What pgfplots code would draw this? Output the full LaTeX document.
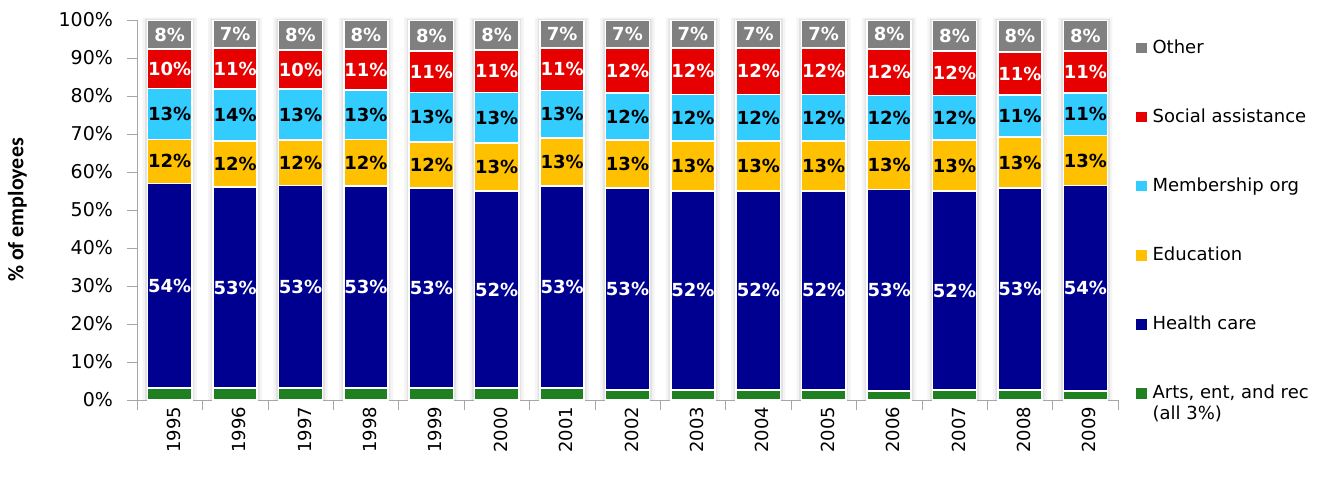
\documentclass[border=0pt]{standalone}
\usepackage{pgfplots}
\pgfplotsset{compat=1.18}
\usepackage{pgfplotstable}
\usepackage{fontspec}
\setmainfont{DejaVu Sans}
\newfontfamily\calibri{Carlito}

\definecolor{cOther}{HTML}{808080}
\definecolor{cSocial}{HTML}{E60000}
\definecolor{cMember}{HTML}{33CCFF}
\definecolor{cEdu}{HTML}{FFC000}
\definecolor{cHealth}{HTML}{000090}
\definecolor{cArts}{HTML}{1E8020}

% shares of employees (%)
\pgfplotstableread{
x year arts health edu  member social other
0 1995 3.1  53.9   11.6 13.4   10.3   7.7
1 1996 3.1  53.0   12.1 13.7   10.7   7.4
2 1997 3.1  53.4   11.9 13.4   10.3   7.9
3 1998 3.1  53.2   12.3 13.0   10.7   7.7
4 1999 3.1  52.7   12.1 13.0   10.9   8.2
5 2000 3.1  51.9   12.7 13.2   11.2   7.9
6 2001 3.1  53.2   12.6 12.6   11.2   7.3
7 2002 2.6  53.2   12.6 12.4   11.8   7.4
8 2003 2.7  52.3   13.2 12.2   12.2   7.4
9 2004 2.7  52.3   13.1 12.3   12.2   7.4
10 2005 2.7 52.3   13.2 12.2   12.2   7.4
11 2006 2.4 53.0   12.9 11.8   12.3   7.6
12 2007 2.6 52.4   13.4 11.7   11.7   8.2
13 2008 2.7 53.1   13.4 11.0   11.4   8.4
14 2009 2.4 54.0   13.2 11.2   11.0   8.2
}\shares

\pgfkeys{/pgf/number format/assume math mode=true}

\begin{document}
\begin{tikzpicture}[font=\fontsize{9}{11}\selectfont]
\path[use as bounding box] (-68.5pt,-41.75pt) rectangle (600.5pt,200pt);
\pgfplotsset{
  frame/.style={width=490.5pt, height=190pt, scale only axis,
    xmin=-0.5, xmax=14.5, ymin=0, ymax=100},
}
% soft shadow behind each bar
\begin{axis}[frame, hide axis, ybar, bar shift=0pt, clip=false]
  \addplot[draw=none, fill=gray!9, bar width=0.83] table[x=x,
    y expr=\thisrow{arts}+\thisrow{health}+\thisrow{edu}+\thisrow{member}+\thisrow{social}+\thisrow{other}+0.6] {\shares};
  \addplot[draw=none, fill=gray!22, bar width=0.75] table[x=x,
    y expr=\thisrow{arts}+\thisrow{health}+\thisrow{edu}+\thisrow{member}+\thisrow{social}+\thisrow{other}+0.3] {\shares};
\end{axis}

\begin{axis}[frame,
    ybar stacked, bar width=0.673,
    axis lines*=left,
    axis line style={gray!70, -},
    tick align=outside,
    tick style={gray!70},
    major tick length=5pt,
    ytick={0,10,...,100},
    yticklabel={\pgfmathprintnumber{\tick}\%},
    yticklabel style={font=\fontsize{9.5}{11}\selectfont, xshift=-3.5pt},
    xtick={-0.5,0.5,...,14.5},
    xticklabels={},
    extra x ticks={0,1,...,14},
    extra x tick labels={1995,1996,1997,1998,1999,2000,2001,2002,2003,2004,2005,2006,2007,2008,2009},
    extra x tick style={major tick length=0pt,
      tick label style={rotate=90, anchor=east, yshift=-2pt}},
    ylabel={\calibri\bfseries\fontsize{11}{13}\selectfont \% of employees},
    ylabel style={at={(axis description cs:-0.122,0.5)}, anchor=center},
    every axis plot/.append style={draw=white, line width=0.8pt},
    legend image code/.code={\fill[#1, draw=none] (0pt,-2.6pt) rectangle (5.2pt,2.6pt);},
    reverse legend,
    legend style={draw=none, fill=none, at={(axis description cs:1.012,0.97)},
      anchor=north west, row sep=22.2pt, cells={anchor=west},
      font=\fontsize{9}{11}\selectfont,
      /tikz/every odd column/.append style={column sep=1pt}},
  ]
  \addplot[fill=cArts]   table[x=x, y=arts]   {\shares};
  \addlegendentry{\makebox[0pt][l]{\raisebox{-10.5pt}[0pt][0pt]{(all 3\%)}}Arts, ent, and rec}
  \addplot[fill=cHealth] table[x=x, y=health] {\shares};
  \addlegendentry{Health care}
  \addplot[fill=cEdu]    table[x=x, y=edu]    {\shares};
  \addlegendentry{Education}
  \addplot[fill=cMember] table[x=x, y=member] {\shares};
  \addlegendentry{Membership org}
  \addplot[fill=cSocial] table[x=x, y=social] {\shares};
  \addlegendentry{Social assistance}
  \addplot[fill=cOther]  table[x=x, y=other]  {\shares};
  \addlegendentry{Other}
\end{axis}

% segment labels, centred in each segment
\begin{axis}[frame, hide axis,
    point meta=explicit,
    nodes near coords={\pgfmathprintnumber[fixed,precision=0]{\pgfplotspointmeta}\%},
    every node near coord/.append style={anchor=center, inner sep=0pt,
      font=\bfseries\fontsize{9}{11}\selectfont},
    every axis plot/.append style={only marks, mark=*, mark size=0pt,
      mark options={draw=none, fill=none}},
  ]
  \addplot[nodes near coords style={white}] table[x=x,
    y expr=\thisrow{arts}+\thisrow{health}/2, meta=health] {\shares};
  \addplot[nodes near coords style={black}] table[x=x,
    y expr=\thisrow{arts}+\thisrow{health}+\thisrow{edu}/2, meta=edu] {\shares};
  \addplot[nodes near coords style={black}] table[x=x,
    y expr=\thisrow{arts}+\thisrow{health}+\thisrow{edu}+\thisrow{member}/2, meta=member] {\shares};
  \addplot[nodes near coords style={white}] table[x=x,
    y expr=\thisrow{arts}+\thisrow{health}+\thisrow{edu}+\thisrow{member}+\thisrow{social}/2, meta=social] {\shares};
  \addplot[nodes near coords style={white}] table[x=x,
    y expr=100-\thisrow{other}/2, meta=other] {\shares};
\end{axis}
\end{tikzpicture}
\end{document}
